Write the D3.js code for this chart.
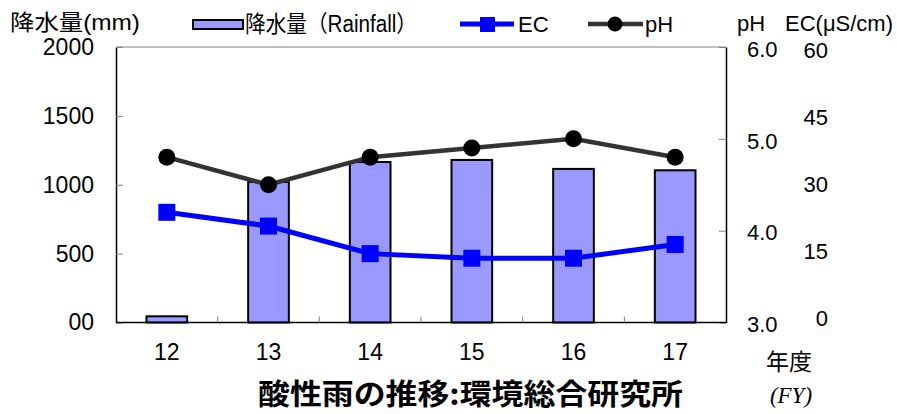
<!DOCTYPE html>
<html>
<head>
<meta charset="utf-8">
<script src="https://cdn.jsdelivr.net/npm/d3@7"></script>
<style>
  body { margin: 0; background: #fff; }
  svg { display: block; }
  text { fill: #000; font-family: "Liberation Sans", Arial, "Noto Sans CJK JP", sans-serif; }
</style>
</head>
<body>
<svg id="chart" width="897" height="414"></svg>
<script>
// Data
const years = ['12', '13', '14', '15', '16', '17'];
const rainfall = [45, 1020, 1165, 1180, 1115, 1105];   // mm
const ecValues = [24, 21, 15, 14, 14, 17];               // uS/cm
const phValues = [4.8, 4.5, 4.8, 4.9, 5.0, 4.8];

const rainTicks = [0, 500, 1000, 1500, 2000];
const rainTickLabels = ['00', '500', '1000', '1500', '2000'];
const phTicks = [3, 4, 5, 6];
const ecTicks = [0, 15, 30, 45, 60];

// Plot box
const plot = { left: 116, top: 47, right: 726, bottom: 322.5 };

const svg = d3.select('#chart');

// Scales
const x = d3.scaleBand()
  .domain(years)
  .range([plot.left, plot.right])
  .paddingInner(0)
  .paddingOuter(0);

const yRain = d3.scaleLinear().domain([0, 2000]).range([plot.bottom, plot.top]);
const yPh = d3.scaleLinear().domain([3, 6]).range([plot.bottom, plot.top]);
const yEc = d3.scaleLinear().domain([0, 60]).range([plot.bottom, plot.top]);
// EC labels sit in a separate text column, slightly inside the plot range
const yEcLabel = d3.scaleLinear().domain([0, 60]).range([318, 50]);

const barWidth = x.bandwidth() * 0.4;

// Top frame line (grey)
svg.append('line')
  .attr('x1', plot.left).attr('x2', plot.right)
  .attr('y1', plot.top).attr('y2', plot.top)
  .attr('stroke', '#808080').attr('stroke-width', 1);

// Left axis (rainfall)
const leftAxis = svg.append('g')
  .attr('transform', `translate(${plot.left},0)`)
  .call(d3.axisLeft(yRain)
    .tickValues(rainTicks)
    .tickFormat((d, i) => rainTickLabels[i])
    .tickSizeInner(-7)
    .tickSizeOuter(0)
    .tickPadding(22));
leftAxis.select('.domain').attr('stroke', '#000').attr('stroke-width', 1.5);
leftAxis.selectAll('.tick line').attr('stroke', '#808080');
leftAxis.selectAll('text').attr('font-size', 23);

// Right axis (pH)
const rightAxis = svg.append('g')
  .attr('transform', `translate(${plot.right},0)`)
  .call(d3.axisRight(yPh)
    .tickValues(phTicks)
    .tickFormat(d3.format('.1f'))
    .tickSizeInner(-7)
    .tickSizeOuter(0)
    .tickPadding(21));
rightAxis.select('.domain').attr('stroke', '#000').attr('stroke-width', 1.5);
rightAxis.selectAll('.tick line').attr('stroke', '#808080');
rightAxis.selectAll('text').attr('font-size', 22).attr('dy', '0.42em');

// EC labels (second right-hand scale, no line)
svg.append('g')
  .selectAll('text')
  .data(ecTicks)
  .enter()
  .append('text')
  .attr('x', 828)
  .attr('y', d => yEcLabel(d))
  .attr('dy', '0.35em')
  .attr('text-anchor', 'end')
  .attr('font-size', 22)
  .text(d => d);

// Bars
svg.append('g')
  .selectAll('rect')
  .data(rainfall)
  .enter()
  .append('rect')
  .attr('x', (d, i) => x(years[i]) + (x.bandwidth() - barWidth) / 2)
  .attr('y', d => yRain(d))
  .attr('width', barWidth)
  .attr('height', d => plot.bottom - yRain(d))
  .attr('fill', '#9999ff')
  .attr('stroke', '#000')
  .attr('stroke-width', 2);

// Bottom axis line + category ticks
const bottomAxis = svg.append('g')
  .attr('transform', `translate(0,${plot.bottom})`)
  .call(d3.axisBottom(x).tickSize(0).tickPadding(21));
bottomAxis.select('.domain').remove();
bottomAxis.selectAll('text')
  .attr('font-size', 23)
  .style('font-family', '"Liberation Sans Narrow", "Liberation Sans", Arial, sans-serif');

svg.append('line')
  .attr('x1', plot.left).attr('x2', plot.right)
  .attr('y1', plot.bottom).attr('y2', plot.bottom)
  .attr('stroke', '#000').attr('stroke-width', 1.5);

svg.append('g')
  .selectAll('line')
  .data(years.slice(1))
  .enter()
  .append('line')
  .attr('x1', d => x(d)).attr('x2', d => x(d))
  .attr('y1', plot.bottom).attr('y2', plot.bottom - 6)
  .attr('stroke', '#808080');

const cx = (d, i) => x(years[i]) + x.bandwidth() / 2;

// pH line
svg.append('path')
  .datum(phValues)
  .attr('fill', 'none')
  .attr('stroke', '#333333')
  .attr('stroke-width', 4.5)
  .attr('d', d3.line().x(cx).y(d => yPh(d)));

svg.append('g')
  .selectAll('circle')
  .data(phValues)
  .enter()
  .append('circle')
  .attr('cx', cx)
  .attr('cy', d => yPh(d))
  .attr('r', 8.5)
  .attr('fill', '#000');

// EC line
svg.append('path')
  .datum(ecValues)
  .attr('fill', 'none')
  .attr('stroke', '#0000ff')
  .attr('stroke-width', 5)
  .attr('d', d3.line().x(cx).y(d => yEc(d)));

svg.append('g')
  .selectAll('rect')
  .data(ecValues)
  .enter()
  .append('rect')
  .attr('x', (d, i) => cx(d, i) - 8.5)
  .attr('y', d => yEc(d) - 8.5)
  .attr('width', 17)
  .attr('height', 17)
  .attr('fill', '#0000ff');

// Axis titles
svg.append('text')
  .attr('x', 10).attr('y', 30)
  .attr('font-size', 22)
  .attr('textLength', 130)
  .attr('lengthAdjust', 'spacingAndGlyphs')
  .text('降水量(mm)');

svg.append('text')
  .attr('x', 737).attr('y', 31)
  .attr('font-size', 22)
  .text('pH');

svg.append('text')
  .attr('x', 785).attr('y', 31)
  .attr('font-size', 22)
  .text('EC(μS/cm)');

// Legend
const legend = svg.append('g');

legend.append('rect')
  .attr('x', 193).attr('y', 20)
  .attr('width', 50).attr('height', 9)
  .attr('fill', '#9999ff')
  .attr('stroke', '#000')
  .attr('stroke-width', 2);

legend.append('text')
  .attr('x', 245).attr('y', 32)
  .attr('font-size', 23)
  .attr('textLength', 172)
  .attr('lengthAdjust', 'spacingAndGlyphs')
  .text('降水量（Rainfall）');

legend.append('line')
  .attr('x1', 460).attr('x2', 514)
  .attr('y1', 24).attr('y2', 24)
  .attr('stroke', '#0000ff').attr('stroke-width', 5);
legend.append('rect')
  .attr('x', 480).attr('y', 17)
  .attr('width', 15).attr('height', 15)
  .attr('fill', '#0000ff');
legend.append('text')
  .attr('x', 518).attr('y', 32)
  .attr('font-size', 22)
  .text('EC');

legend.append('line')
  .attr('x1', 588).attr('x2', 643)
  .attr('y1', 24).attr('y2', 24)
  .attr('stroke', '#333333').attr('stroke-width', 4.5);
legend.append('circle')
  .attr('cx', 615).attr('cy', 24)
  .attr('r', 7.5)
  .attr('fill', '#000');
legend.append('text')
  .attr('x', 645).attr('y', 32)
  .attr('font-size', 22)
  .text('pH');

// Fiscal-year label
svg.append('text')
  .attr('x', 789).attr('y', 370)
  .attr('text-anchor', 'middle')
  .attr('font-size', 23)
  .text('年度');

svg.append('text')
  .attr('x', 791).attr('y', 403)
  .attr('text-anchor', 'middle')
  .attr('font-size', 23)
  .attr('font-style', 'italic')
  .style('font-family', '"Liberation Serif", "Times New Roman", serif')
  .text('(FY)');

// Title
svg.append('text')
  .attr('x', 258).attr('y', 405)
  .attr('font-size', 29)
  .attr('font-weight', 'bold')
  .attr('textLength', 425)
  .attr('lengthAdjust', 'spacingAndGlyphs')
  .style('font-family', '"Noto Sans CJK JP", sans-serif')
  .text('酸性雨の推移:環境総合研究所');
</script>
</body>
</html>
